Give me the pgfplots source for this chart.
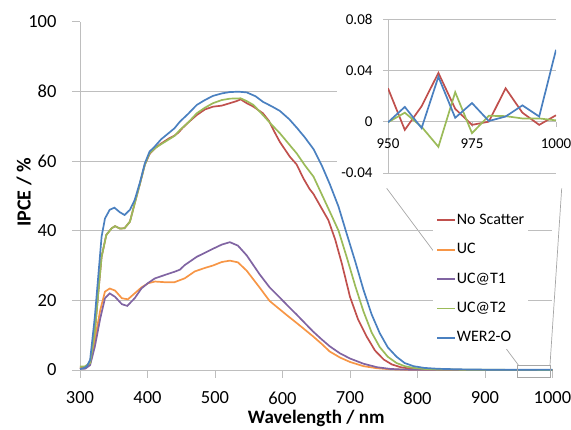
\documentclass[border=0pt]{standalone}
\usepackage{pgfplots}
\pgfplotsset{compat=1.18}
\usepackage{fontspec}
\setmainfont{Carlito}
\definecolor{cred}{RGB}{192,80,77}
\definecolor{corange}{RGB}{247,150,70}
\definecolor{cpurple}{RGB}{128,100,162}
\definecolor{cgreen}{RGB}{155,187,89}
\definecolor{cblue}{RGB}{74,128,192}
\definecolor{cgrid}{RGB}{190,190,190}
\begin{document}
\begin{tikzpicture}[x=1pt,y=1pt]
\useasboundingbox (0,0) rectangle (571,430);
% connector lines (behind legend)
\draw[gray!70, line width=0.7pt] (518.3,65) -- (386.7,241.7);
\draw[gray!70, line width=0.7pt] (550,65) -- (561.7,241.7);
\begin{axis}[
  at={(80pt,60pt)}, anchor=south west, scale only axis,
  width=472.5pt, height=348.3pt,
  xmin=300, xmax=1000, ymin=0, ymax=100, clip=false,
  axis lines*=left,
  axis line style={cgrid, line width=0.9pt},
  tick style={cgrid, line width=0.9pt},
  tick align=outside, major tick length=8pt,
  xtick={300,400,...,1000}, xticklabels={300,400,500,600,700,800,900,1000},
  ytick={0,20,...,100}, yticklabels={0,20,40,60,80,100},
  extra y ticks={20,40,60,80}, extra y tick labels={,,,},
  extra y tick style={grid=major, major tick length=0pt},
  grid style={cgrid, line width=0.9pt},
  tick label style={font=\fontsize{18.5}{22}\selectfont},
  yticklabel style={xshift=-12pt},
  xticklabel style={yshift=-10pt},
  xlabel={Wavelength / nm},
  ylabel={IPCE / \%},
  every axis x label/.style={at={(axis description cs:0.5,-0.155)}, anchor=base, inner sep=0pt, font=\fontsize{19}{23}\selectfont\bfseries},
  every axis y label/.style={at={(axis description cs:-0.1185,0.51)}, anchor=center, rotate=90, font=\fontsize{20}{24}\selectfont\bfseries},
  every axis plot/.append style={line width=1.7pt},
  legend image code/.code={\draw[#1, line width=1.7pt] (0pt,0pt) -- (18pt,0pt);},
  legend cell align=left,
  legend style={at={(0.7471,0.462)}, anchor=north west, draw=none, fill=white,
    inner sep=3pt, row sep=13.4pt, column sep=0pt,
    font=\fontsize{16}{19}\selectfont,
    nodes={inner sep=1pt, text height=11pt, text depth=3pt}},
]
\addplot[cred] coordinates {
(300,0.5)(307,0.8)(315,2.0)(322,11)(327,22)(332,32.5)(339,38.8)(347,40.7)(352,41.3)(359,40.6)(366,40.7)(374,42.6)(381,47.8)(389,53.6)(396,58.9)(403,62)
(412,63.8)(420,65)(432,66.5)(440,67.3)(446,68.2)(452,69.5)(460,71)(473,73.2)(485,74.8)(497,75.6)(510,75.9)(522,76.6)(532,77.2)(538,77.7)(547,76.6)(557,75.6)(571,73.7)(580,71.5)(588,68.4)(596,65.5)(604,63.2)(611,61.2)(621,59)(631,55)(640,52)(646,50.5)(658,46.4)(668,43)(678,37.5)(688,30.5)(700,21)(712,14.5)(725,9.5)(737,5.6)(750,3)(762,1.6)(775,0.8)(790,0.35)(810,0.15)(850,0.05)(900,0.02)(1000,0.005)};
\addlegendentry{No Scatter}
\addplot[corange] coordinates {
(300,0.5)(308,0.5)(315,2.0)(322,8.6)(330,17.2)(337,22.5)(344,23.4)(352,22.8)(362,20.6)(371,20.3)(381,22)(391,23.7)(401,24.9)(411,25.4)(426,25.2)(440,25.2)(448,25.8)(455,26.3)(470,28.3)(485,29.3)(497,30.0)(510,31.0)(522,31.4)(534,30.9)(547,28.5)(566,23.7)(581,19.8)(596,17.4)(608,15.5)(621,13.5)(633,11.6)(645,9.7)(658,7.5)(670,5.3)(685,3.6)(700,2.3)(720,1.1)(740,0.5)(760,0.2)(780,0.1)(800,0.05)(1000,0)};
\addlegendentry{UC}
\addplot[cpurple] coordinates {
(300,0.3)(308,0.4)(315,1.4)(322,6.7)(330,14.8)(337,20.6)(344,22)(352,21)(362,18.9)(370,18.4)(381,20.6)(391,23.4)(401,25)(411,26.3)(426,27.3)(440,28.2)(448,28.8)(455,30.1)(473,32.5)(497,34.8)(510,36.0)(522,36.7)(534,35.7)(547,32.9)(566,27.5)(581,23.7)(596,20.8)(608,18.4)(621,15.9)(633,13.5)(645,11.1)(658,8.8)(670,6.8)(685,4.8)(700,3.3)(720,1.8)(740,0.8)(760,0.3)(780,0.12)(800,0.05)(1000,0)};
\addlegendentry{UC@T1}
\addplot[cgreen] coordinates {
(300,1.0)(307,1.0)(315,2.0)(322,11)(327,22)(332,32.5)(339,38.8)(347,40.7)(352,41.3)(359,40.6)(366,40.7)(374,42.6)(381,47.8)(389,53.6)(396,58.9)(403,62.2)(412,63.8)(420,64.8)(440,67.2)(448,68.9)(460,71.0)(473,73.7)(485,75.3)(497,76.6)(510,77.5)(522,77.9)(538,78)(547,77.2)(557,76.1)(571,73.2)(585,70.2)(596,68.0)(608,65.2)(621,62.2)(633,58.8)(646,55.5)(658,50.5)(670,45.5)(683,40)(695,32.5)(708,24)(720,16.8)(732,10.8)(744,6.6)(756,3.8)(769,2.0)(781,1.1)(794,0.6)(810,0.3)(830,0.15)(860,0.1)(900,0.05)(1000,0.02)};
\addlegendentry{UC@T2}
\addplot[cblue] coordinates {
(300,0.3)(305,0.5)(310,1.0)(315,2.9)(322,15.3)(327,26.8)(332,38.3)(337,43.5)(344,46)(351,46.6)(359,45.3)(366,44.5)(374,46)(381,48.8)(389,54)(396,59.3)(403,62.7)(410,64)(420,66.2)(440,69.4)(448,71.3)(460,73.5)(473,76.1)(485,77.5)(497,78.7)(510,79.4)(522,79.8)(535,79.9)(547,79.7)(560,78.6)(571,77)(585,75.6)(596,74.4)(610,72)(621,69.6)(633,66.8)(646,63.4)(658,58.8)(670,53.4)(683,46.9)(695,39.2)(708,31)(720,23)(732,16)(744,10.6)(756,6.5)(769,3.8)(781,2.0)(794,1.1)(810,0.6)(830,0.35)(860,0.2)(900,0.1)(950,0.05)(1000,0.05)};
\addlegendentry{WER2-O}
\draw[gray!70, line width=0.7pt] (rel axis cs:0.9249,-0.0201) rectangle (rel axis cs:0.9947,0.0144);
\end{axis}
\fill[white] (337,245) rectangle (571,430);
\begin{axis}[
  at={(388pt,257pt)}, anchor=south west, scale only axis,
  width=168pt, height=154pt,
  xmin=950, xmax=1000, ymin=-0.04, ymax=0.08,
  axis y line=left, axis x line=middle,
  scaled y ticks=false, scaled x ticks=false,
  hide obscured x ticks=false, hide obscured y ticks=false,
  axis line style={-, cgrid, line width=0.9pt},
  every inner x axis line/.append style={-},
  every outer y axis line/.append style={-},
  tick style={cgrid, line width=0.9pt},
  tick align=outside, major tick length=5pt,
  xtick={950,975,1000}, xticklabels={950,975,1000},
  ytick={-0.04,0,0.04,0.08}, yticklabels={-0.04,0,0.04,0.08},
  ymajorgrids, grid style={cgrid, line width=0.9pt},
  tick label style={font=\fontsize{15}{18}\selectfont},
  yticklabel style={xshift=-7pt},
  xticklabel style={yshift=-9pt},
  every axis plot/.append style={line width=1.7pt},
]
\addplot[cred] coordinates {(950,0.026)(955,-0.0064)(960,0.012)(965,0.038)(970,0.010)(975,-0.0025)(980,0.0)(985,0.026)(990,0.007)(995,-0.0025)(1000,0.005)};
\addplot[cgreen] coordinates {(950,-0.0005)(955,0.007)(960,-0.004)(965,-0.0196)(970,0.023)(975,-0.009)(980,0.0046)(985,0.0043)(990,0.0025)(995,0.0025)(1000,0.001)};
\addplot[cblue] coordinates {(950,-0.0005)(955,0.0115)(960,-0.005)(965,0.035)(970,0.003)(975,0.0145)(980,0.0005)(985,0.004)(990,0.0127)(995,0.004)(1000,0.056)};
\end{axis}
\end{tikzpicture}
\end{document}
